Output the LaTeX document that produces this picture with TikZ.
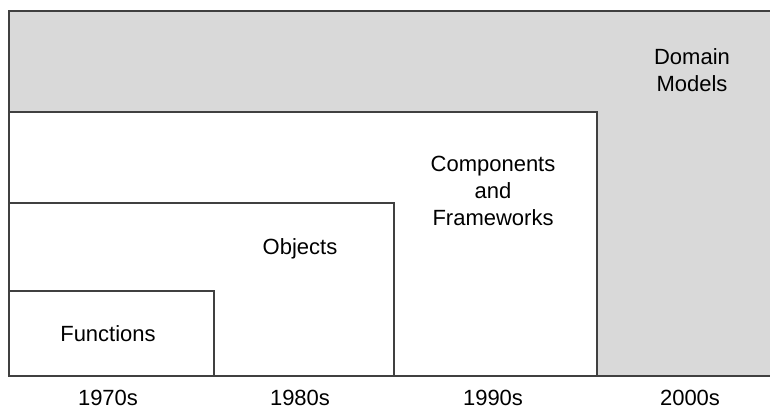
\documentclass[tikz,border=0pt]{standalone}
\usepackage{fontspec}
\setmainfont{Liberation Sans}
\usepackage{tikz}
\usetikzlibrary{positioning}

\begin{document}
\begin{tikzpicture}[x=1pt, y=-1pt,
    era/.style={draw=black!75, line width=1.3pt, fill=white},
    eralabel/.style={font=\fontsize{22}{27}\selectfont, align=center, inner sep=0pt},
    ]
    \useasboundingbox (0,0) rectangle (770,410);

    % Domain models (grey, open to the right)
    \fill[black!15] (9,11) rectangle (775,376);
    \draw[black!75, line width=1.3pt] (775,11) -- (9,11) -- (9,376);

    % Nested eras
    \draw[era] (9,112) rectangle (597,376);
    \draw[era] (9,203) rectangle (394,376);
    \draw[era] (9,291) rectangle (214,376);

    % Time axis
    \draw[black!75, line width=1.3pt] (9,376) -- (775,376);

    % Era labels
    \node[eralabel] (domain) at (692,70) {Domain\\Models};
    \node[eralabel] (comp) at (493,191) {Components\\and\\Frameworks};
    \node[eralabel] (obj) at (300,249) {Objects};
    \node[eralabel] (func) at (108,334) {Functions};

    % Decades
    \node[eralabel] (d70) at (108,398) {1970s};
    \node[eralabel] (d80) at (300,398) {1980s};
    \node[eralabel] (d90) at (493,398) {1990s};
    \node[eralabel] (d00) at (690,398) {2000s};
\end{tikzpicture}
\end{document}
